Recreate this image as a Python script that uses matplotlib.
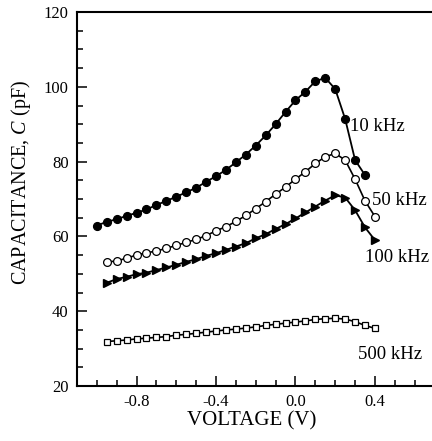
import numpy as np
import matplotlib
matplotlib.use("Agg")
import matplotlib.pyplot as plt
from matplotlib.ticker import MultipleLocator, FormatStrFormatter

plt.rcParams['font.family'] = ['Liberation Serif', 'DejaVu Serif']
plt.rcParams['mathtext.fontset'] = 'custom'
plt.rcParams['mathtext.rm'] = 'Liberation Serif'
plt.rcParams['mathtext.it'] = 'Liberation Serif:italic'
plt.rcParams['axes.unicode_minus'] = False

# напряжение, В
v_10k = np.arange(-1.0, 0.351, 0.05)
v_other = np.arange(-0.95, 0.401, 0.05)

# ёмкость, пФ
c_10k = [62.9, 63.9, 64.6, 65.5, 66.3, 67.2, 68.4, 69.5, 70.6, 71.8,
         73.0, 74.6, 76.1, 77.8, 79.8, 81.9, 84.3, 87.0, 90.0, 93.3,
         96.4, 98.7, 101.5, 102.4, 99.4, 91.4, 80.4, 76.4]
c_50k = [53.2, 53.4, 54.2, 55.0, 55.6, 56.1, 56.8, 57.6, 58.4, 59.2,
         60.2, 61.5, 62.6, 64.0, 65.6, 67.4, 69.3, 71.3, 73.2, 75.3,
         77.3, 79.5, 81.3, 82.2, 80.4, 75.3, 69.5, 65.3]
c_100k = [47.6, 48.6, 49.2, 49.9, 50.3, 51.0, 51.7, 52.4, 53.2, 53.9,
          54.8, 55.5, 56.4, 57.3, 58.2, 59.5, 60.6, 62.0, 63.3, 64.8,
          66.4, 68.0, 69.6, 71.0, 70.4, 67.0, 62.4, 59.0]
c_500k = [31.9, 32.1, 32.3, 32.6, 32.8, 33.0, 33.2, 33.6, 33.8, 34.1,
          34.4, 34.7, 35.0, 35.2, 35.5, 35.8, 36.2, 36.5, 36.8, 37.1,
          37.4, 37.8, 38.0, 38.1, 37.9, 37.2, 36.2, 35.4]

labels = ['10 kHz', '50 kHz', '100 kHz', '500 kHz']
label_pos = [(0.275, 89.5), (0.385, 69.5), (0.35, 54.3), (0.314, 28.3)]

fig = plt.figure(figsize=(4.32, 4.41), dpi=100)
ax = fig.add_axes([0.178, 0.1247, 0.828, 0.848])

ax.plot(v_10k, c_10k, '-o', color='black', lw=1.3, ms=5.6)
ax.plot(v_other, c_50k, '-o', color='black', lw=1.2, ms=5.6,
        mfc='white', mew=0.9)
ax.plot(v_other, c_100k, '->', color='black', lw=1.3, ms=5.2)
ax.plot(v_other, c_500k, '-s', color='black', lw=1.2, ms=5.0,
        mfc='white', mew=0.9)

for txt, (x, y) in zip(labels, label_pos):
    ax.text(x, y, txt, fontsize=13.5, va='center', ha='left')

ax.set_xlim(-1.1, 0.7)
ax.set_ylim(20, 120)
ax.xaxis.set_major_locator(MultipleLocator(0.4))
ax.xaxis.set_minor_locator(MultipleLocator(0.1))
ax.xaxis.set_major_formatter(FormatStrFormatter('%.1f'))
ax.yaxis.set_major_locator(MultipleLocator(20))
ax.yaxis.set_minor_locator(MultipleLocator(5))

ax.tick_params(which='both', direction='in', top=False, right=False,
               labelsize=12, width=1.1)
ax.tick_params(which='major', length=7, pad=6)
ax.tick_params(which='minor', length=4.3)
for s in ax.spines.values():
    s.set_linewidth(1.5)

ax.set_xlabel('VOLTAGE (V)', fontsize=15)
ax.set_ylabel('CAPACITANCE, $C$ (pF)', fontsize=14.5)
ax.xaxis.set_label_coords(0.489, -0.068)
ax.yaxis.set_label_coords(-0.124, 0.543)

fig.savefig('out.png', dpi=100)
